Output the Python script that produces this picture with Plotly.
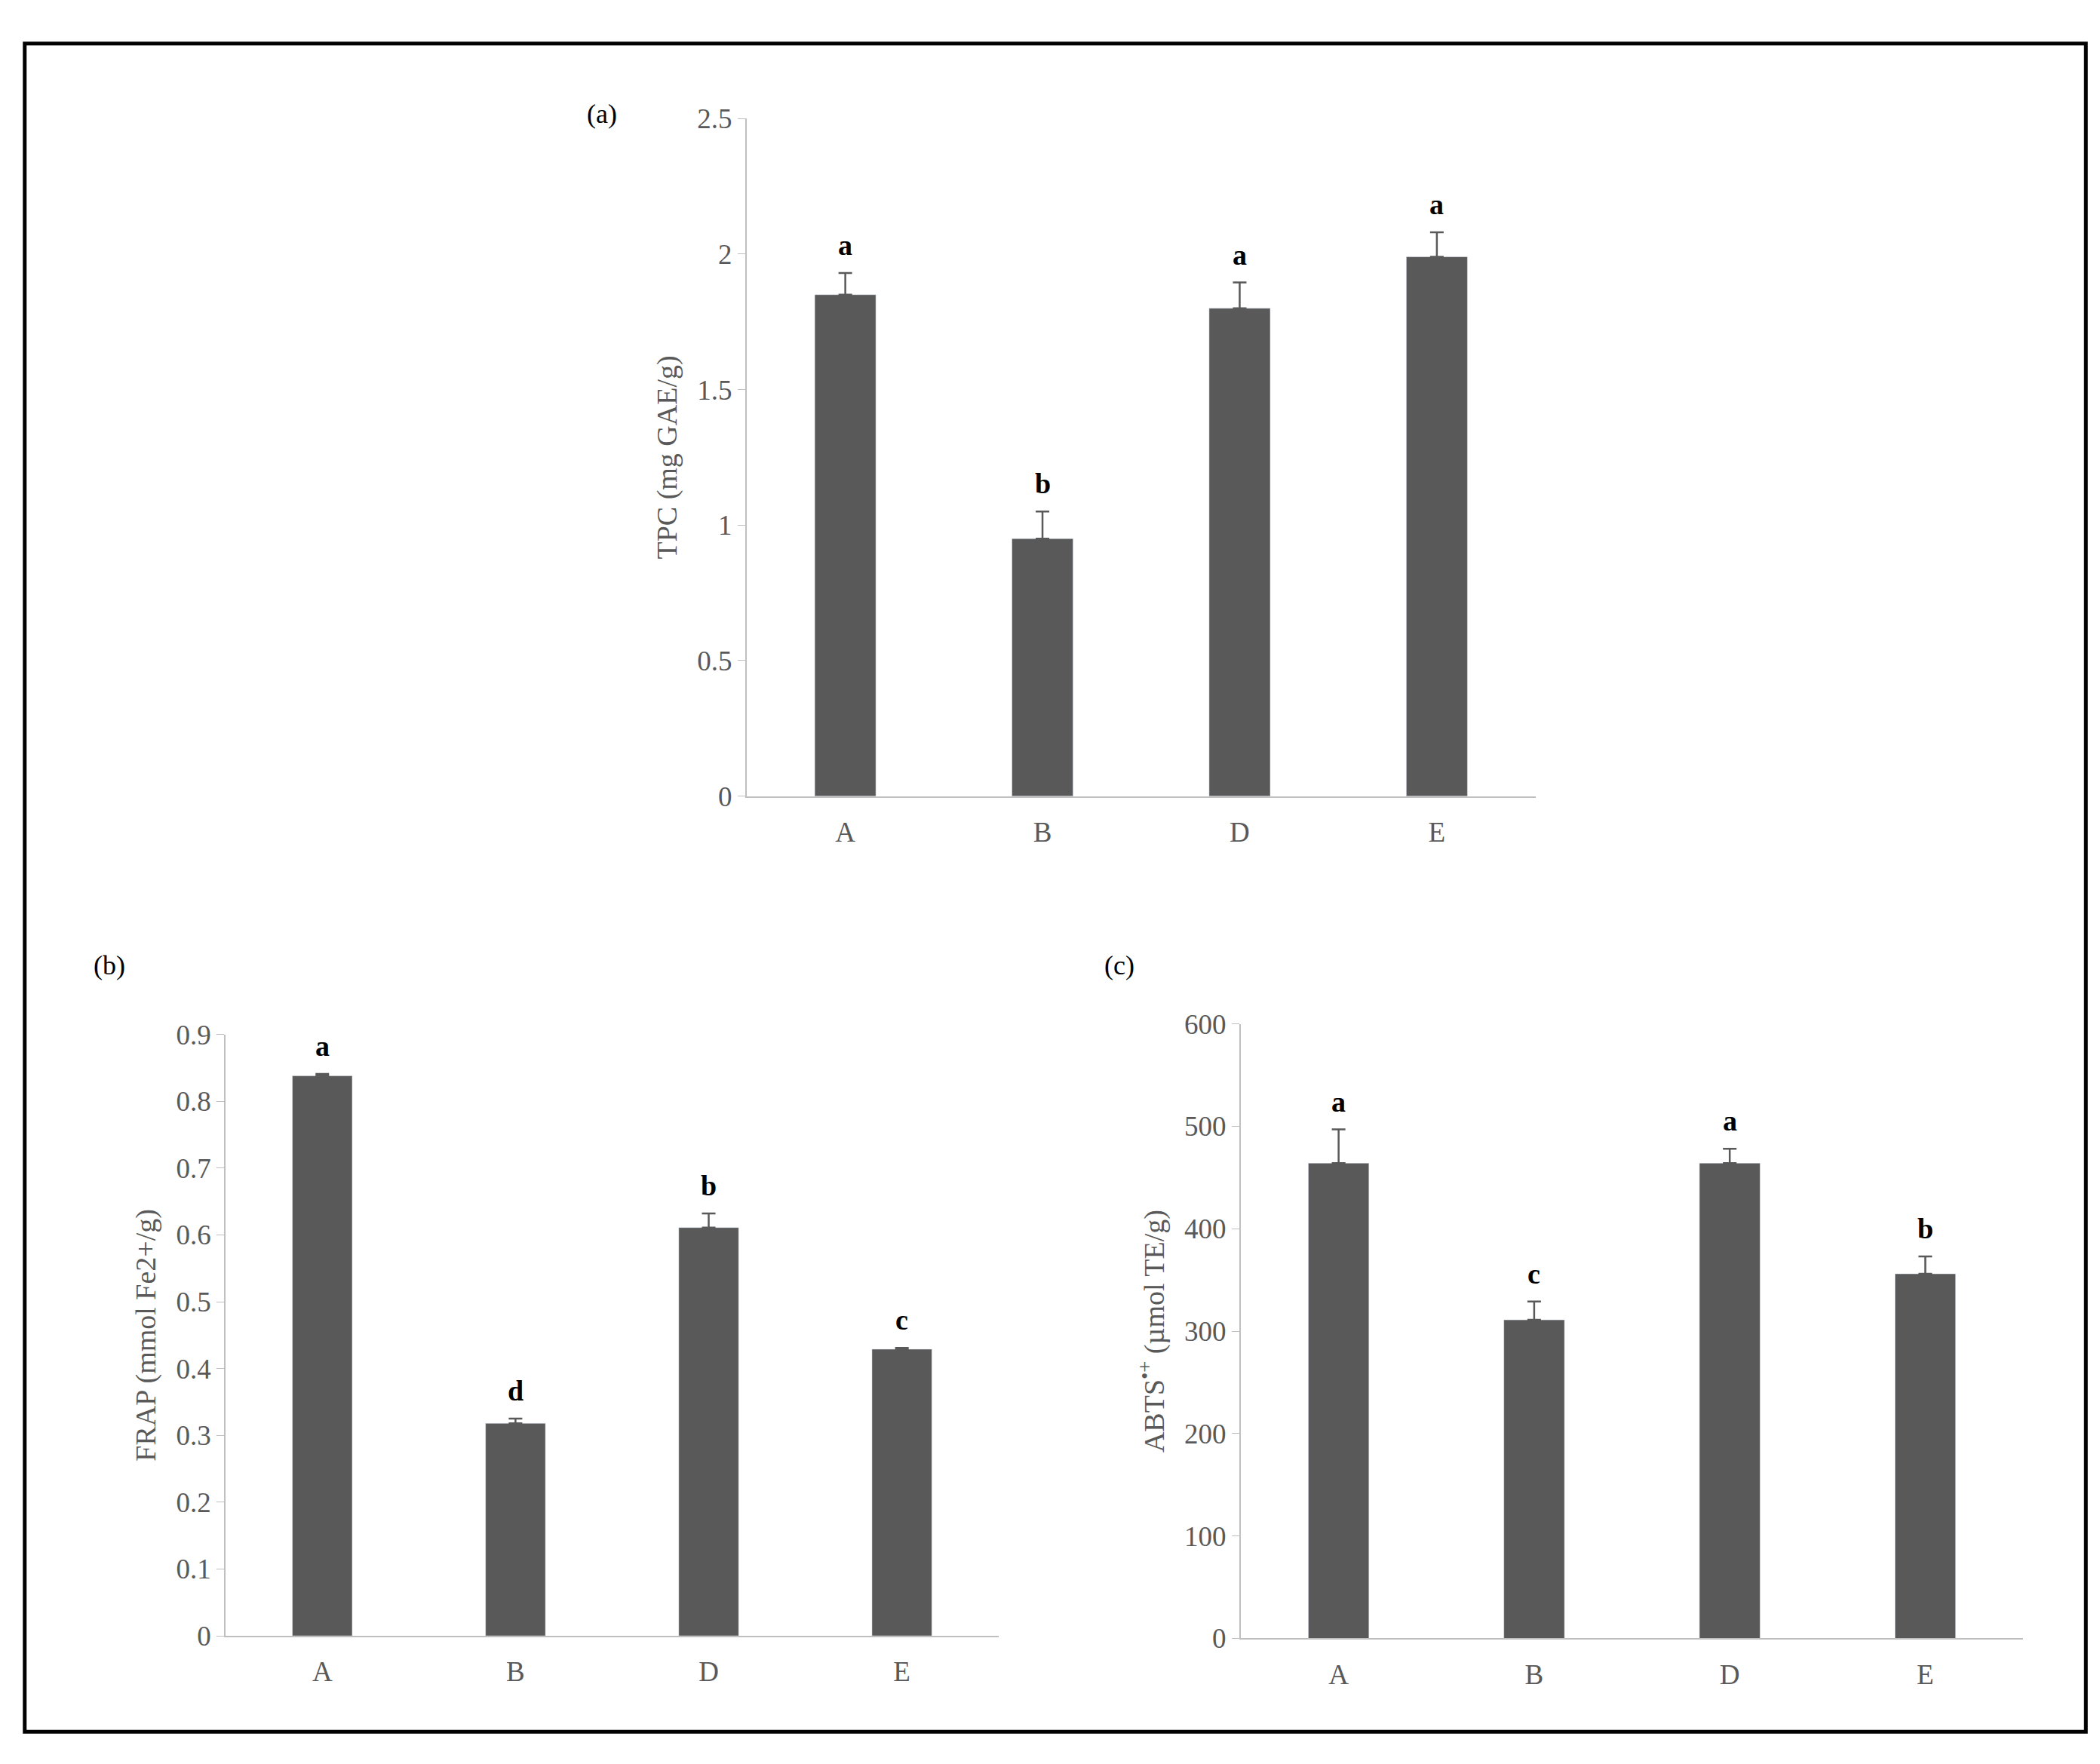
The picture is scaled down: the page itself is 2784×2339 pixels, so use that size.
import plotly.graph_objects as go

cats = ["A", "B", "D", "E"]
tpc = [1.85, 0.95, 1.80, 1.99]
tpc_err = [0.08, 0.10, 0.095, 0.09]
tpc_lbl = ["a", "b", "a", "a"]
frap = [0.838, 0.318, 0.611, 0.429]
frap_err = [0.003, 0.007, 0.021, 0.002]
frap_lbl = ["a", "d", "b", "c"]
abts = [464, 311, 464, 356]
abts_err = [33, 18, 14, 17]
abts_lbl = ["a", "c", "a", "b"]

FONT = "Liberation Serif"
GREY = "#595959"
fig = go.Figure()
panels = [
    ("x", "y", tpc, tpc_err, tpc_lbl, [0.3527, 0.7283], [0.5528, 0.9438], [0, 2.5], 0.5, "TPC (mg GAE/g)"),
    ("x2", "y2", frap, frap_err, frap_lbl, [0.1046, 0.4726], [0.0683, 0.4153], [0, 0.9], 0.1, "FRAP (mmol Fe2+/g)"),
    ("x3", "y3", abts, abts_err, abts_lbl, [0.588, 0.9605], [0.0668, 0.4214], [0, 600], 100, "ABTS<sup>•+</sup> (µmol TE/g)"),
]
for i, (xa, ya, vals, errs, lbls, dx, dy, rng, dt, title) in enumerate(panels):
    fig.add_trace(go.Bar(x=cats, y=vals, xaxis=xa, yaxis=ya, marker_color=GREY,
                         error_y=dict(type="data", array=errs, arrayminus=[0]*4, symmetric=False,
                                      color=GREY, thickness=2.5, width=9),
                         showlegend=False))
    for c, v, e, l in zip(cats, vals, errs, lbls):
        fig.add_annotation(x=c, y=v + e, xref=xa, yref=ya, text="<b>" + l + "</b>", showarrow=False,
                           yanchor="bottom", yshift=14, font=dict(family=FONT, size=38, color="black"))
    sfx = "" if i == 0 else str(i + 1)
    fig.layout["xaxis" + sfx] = dict(domain=dx, anchor=ya, showline=True, linecolor="#bfbfbf", linewidth=2,
                                     ticks="", tickfont=dict(family=FONT, size=37, color=GREY), ticklabelstandoff=14)
    fig.layout["yaxis" + sfx] = dict(domain=dy, anchor=xa, range=rng, dtick=dt, showgrid=False, showline=True,
                                     linecolor="#bfbfbf", linewidth=2, ticks="outside", ticklen=10, tickcolor="#bfbfbf",
                                     zeroline=False, tickfont=dict(family=FONT, size=37, color=GREY),
                                     title=dict(text=title, font=dict(family=FONT, size=38, color=GREY), standoff=15))

for txt, x, y in [("(a)", 0.276, 0.956), ("(b)", 0.041, 0.455), ("(c)", 0.53, 0.455)]:
    fig.add_annotation(x=x, y=y, xref="paper", yref="paper", text=txt, showarrow=False,
                       font=dict(family=FONT, size=36, color="black"))

fig.add_shape(type="rect", xref="paper", yref="paper", x0=0.0089, x1=0.9904, y0=0.0129, y1=0.9871,
              line=dict(color="black", width=5))
fig.update_layout(width=2784, height=2339, margin=dict(l=0, r=0, t=0, b=0), bargap=0.69,
                  plot_bgcolor="white", paper_bgcolor="white")
fig.write_html("out.html")
